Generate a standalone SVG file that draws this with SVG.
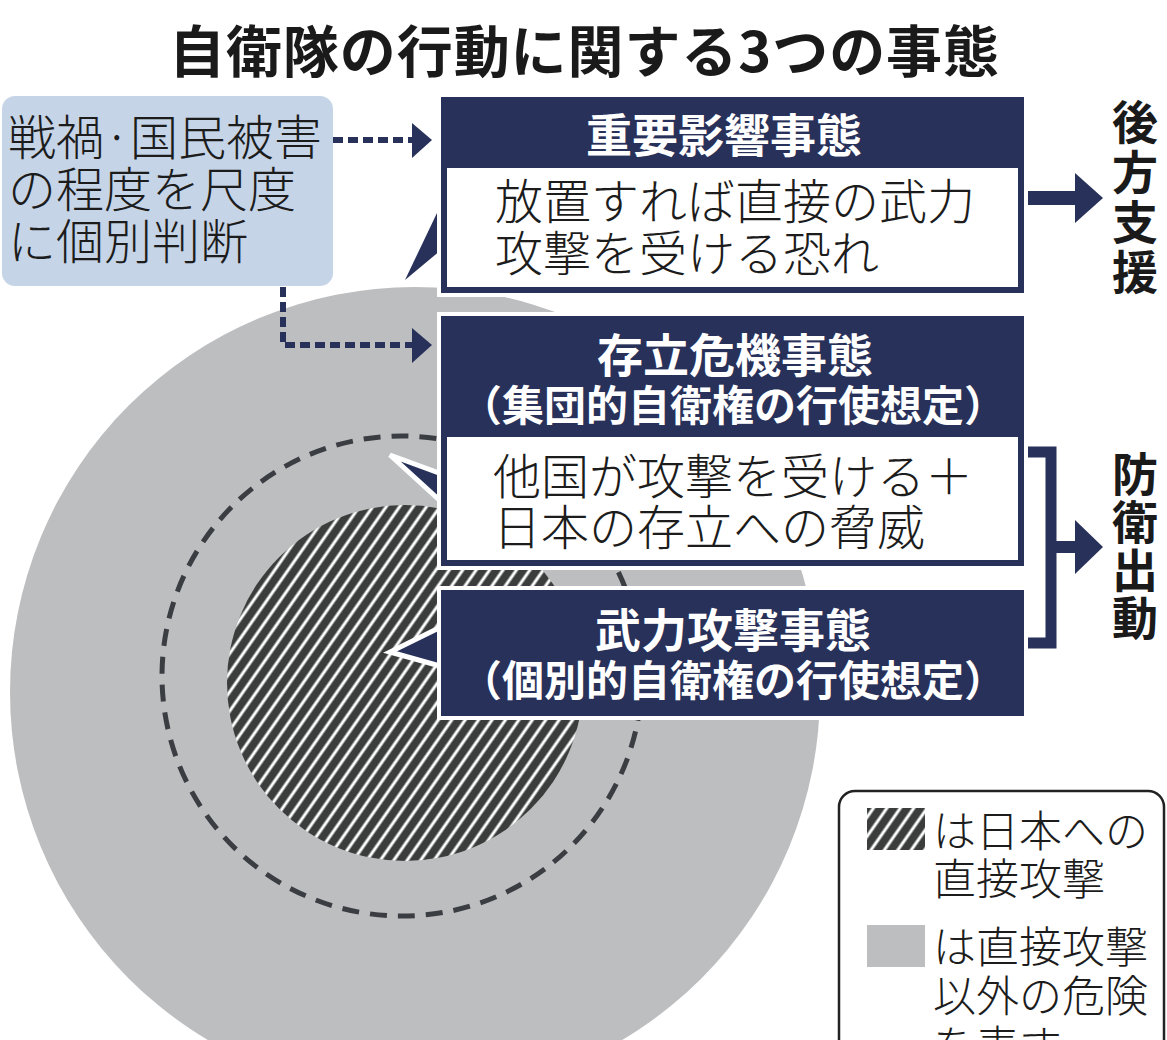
<svg xmlns="http://www.w3.org/2000/svg" width="1167" height="1040" viewBox="0 0 1167 1040">
<style>
text{font-family:"Noto Sans CJK JP","Noto Sans CJK SC",sans-serif;}
.title{font-size:56px;font-weight:700;fill:#1a1a1a;}
.blue{font-size:48px;font-weight:300;fill:#1c1c1c;}
.head{font-size:46px;font-weight:700;fill:#ffffff;}
.sub{font-size:42px;font-weight:700;fill:#ffffff;}
.body{font-size:48px;font-weight:300;fill:#1c1c1c;}
.vert{font-size:46px;font-weight:700;fill:#1a1a1a;writing-mode:vertical-rl;}
.leg{font-size:43px;font-weight:300;fill:#1c1c1c;}
.navy{fill:#28315a;}
.tail{fill:#28315a;stroke:#ffffff;stroke-width:5;stroke-linejoin:miter;}
.dash{fill:none;stroke:#28315a;stroke-width:6;stroke-dasharray:10 5;}
</style>
<defs>
<pattern id="hatch" patternUnits="userSpaceOnUse" width="11" height="11" patternTransform="rotate(35)">
<rect width="11" height="11" fill="#3a3d3c"/>
<line x1="2" y1="0" x2="2" y2="11" stroke="#ffffff" stroke-width="3"/>
</pattern>
</defs>
<rect width="1167" height="1040" fill="#ffffff"/>
<text class="title" x="169" y="72" textLength="830" lengthAdjust="spacing">自衛隊の行動に関する3つの事態</text>

<g id="circles">
<circle cx="415" cy="692" r="405" fill="#bdbec0"/>
<circle cx="402" cy="676" r="240" fill="none" stroke="#3a3d42" stroke-width="5" stroke-dasharray="17 11"/>
<circle cx="405" cy="683" r="178" fill="url(#hatch)"/>
</g>

<g id="criteria">
<rect x="2" y="96" width="331" height="190" rx="13" fill="#c6d4e7"/>
<text class="blue" x="8" y="155">戦禍·国民被害</text>
<text class="blue" x="8" y="207">の程度を尺度</text>
<text class="blue" x="8" y="259">に個別判断</text>
</g>

<g id="connectors">
<line class="dash" x1="333" y1="140" x2="414" y2="140"/>
<polygon class="navy" points="412,123 432,140 412,158"/>
<path class="dash" d="M283,287 V345 H414"/>
<polygon class="navy" points="412,328 432,345 412,363"/>
<line x1="1027" y1="198" x2="1078" y2="198" stroke="#28315a" stroke-width="14"/>
<polygon class="navy" points="1075,173 1103,198 1075,223"/>
<path d="M1028,452 H1051 V643 H1028" fill="none" stroke="#28315a" stroke-width="11"/>
<line x1="1051" y1="547" x2="1078" y2="547" stroke="#28315a" stroke-width="12"/>
<polygon class="navy" points="1075,520 1103,547 1075,574"/>
</g>

<g id="box-juyo">
<polygon class="navy" points="447,192 447,245 405,280"/>
<rect x="437" y="93" width="591" height="204" fill="#ffffff"/>
<rect x="441" y="97" width="583" height="196" class="navy"/>
<rect x="447" y="168" width="571" height="119" fill="#ffffff"/>
<text class="head" x="724" y="152" text-anchor="middle">重要影響事態</text>
<text class="body" x="495" y="219">放置すれば直接の武力</text>
<text class="body" x="495" y="271">攻撃を受ける恐れ</text>
</g>

<g id="box-sonritsu">
<polygon class="tail" points="447,476 447,507 390,455"/>
<rect x="437" y="312" width="591" height="258" fill="#ffffff"/>
<rect x="441" y="316" width="583" height="250" class="navy"/>
<rect x="447" y="437" width="571" height="123" fill="#ffffff"/>
<text class="head" x="735" y="372" text-anchor="middle">存立危機事態</text>
<text class="sub" x="733" y="421" text-anchor="middle">（集団的自衛権の行使想定）</text>
<text class="body" x="493" y="494">他国が攻撃を受ける＋</text>
<text class="body" x="493" y="545">日本の存立への脅威</text>
</g>

<g id="box-buryoku">
<polygon class="tail" points="447,624 447,668 390,652"/>
<rect x="437" y="586" width="591" height="134" fill="#ffffff"/>
<rect x="441" y="590" width="583" height="126" class="navy"/>
<text class="head" x="733" y="647" text-anchor="middle">武力攻撃事態</text>
<text class="sub" x="733" y="696" text-anchor="middle">（個別的自衛権の行使想定）</text>
</g>

<g id="kohoshien">
<text class="vert" x="1135" y="99" letter-spacing="4">後方支援</text>
</g>

<g id="boeishutsudo">
<text class="vert" x="1135" y="451" letter-spacing="2">防衛出動</text>
</g>

<g id="legend">
<rect x="839" y="791" width="325" height="300" rx="16" fill="#ffffff" stroke="#222222" stroke-width="2.5"/>
<rect x="867" y="808" width="58" height="42" fill="url(#hatch)"/>
<rect x="867" y="925" width="58" height="42" fill="#bdbec0"/>
<text class="leg" x="933" y="847">は日本への</text>
<text class="leg" x="933" y="895">直接攻撃</text>
<text class="leg" x="933" y="963">は直接攻撃</text>
<text class="leg" x="933" y="1012">以外の危険</text>
<text class="leg" x="933" y="1062">を表す</text>
</g>
</svg>
